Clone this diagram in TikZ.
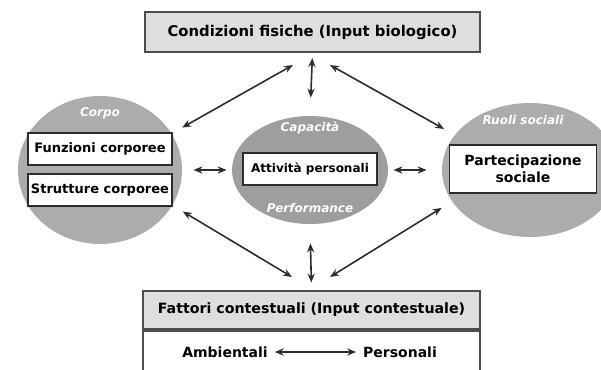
\documentclass[tikz,border=0pt]{standalone}
\usepackage{fontspec}
\setmainfont{DejaVu Sans}
\usetikzlibrary{arrows.meta,positioning,shapes.geometric}
\definecolor{ink}{RGB}{45,45,45}
\definecolor{blobc}{RGB}{172,172,172}
\definecolor{boxc}{RGB}{222,222,222}

\tikzset{
  blob/.style={ellipse,fill=blobc,inner sep=0pt},
  inbox/.style={draw=ink,line width=0.8pt,fill=white,inner sep=1pt,align=center,font=\fontsize{6.5}{8}\selectfont\bfseries},
  headbox/.style={draw=ink!85,line width=1pt,fill=boxc,inner sep=1pt,font=\fontsize{7.4}{9}\selectfont\bfseries},
  tag/.style={text=white,font=\fontsize{6}{7}\selectfont\bfseries\itshape},
  link/.style={{Stealth[length=4.5pt,width=3.6pt]}-{Stealth[length=4.5pt,width=3.6pt]},line width=0.8pt,ink},
}

\begin{document}
\begin{tikzpicture}[x=0.5pt,y=-0.5pt,font=\fontsize{7}{8.5}\selectfont\bfseries]
  \clip (0,0) rectangle (601,370);
  % row and column centres (pixel grid of the scan)
  \def\rM{170}\def\xL{100}\def\xC{310}\def\xR{530}
  % top box
  \node[headbox,minimum width=167.5pt,minimum height=20pt] (fisiche) at (312.5,32) {Condizioni fisiche (Input biologico)};
  % the three ellipses
  \node[blob,minimum width=82pt,minimum height=74pt] (corpo) at (\xL,\rM) {};
  \node[blob,fill=blobc!92!black,minimum width=78pt,minimum height=54pt] (capac) at (\xC,\rM) {};
  \node[blob,minimum width=88pt,minimum height=67pt] (ruoli) at (\xR,\rM) {};
  % ellipse headings
  \node[tag] (tcorpo) at (\xL,113) {Corpo};
  \node[tag] (tcapac) at (\xC,128) {Capacità};
  \node[tag] (tperf) at (\xC,208) {Performance};
  \node[tag] (truoli) at (523,120) {Ruoli sociali};
  % boxes inside the ellipses
  \node[inbox,minimum width=72pt,minimum height=16pt] (funz) at (100,149) {Funzioni corporee};
  \node[inbox,minimum width=72pt,minimum height=16pt] (strutt) at (100,190) {Strutture corporee};
  \node[inbox,minimum width=67pt,minimum height=16pt,font=\fontsize{6}{7.5}\selectfont\bfseries] (attiv) at (\xC,169) {Attività personali};
  \node[inbox,minimum width=73.5pt,minimum height=24pt,font=\fontsize{7}{8.5}\selectfont\bfseries] (partec) at (523,169) {Partecipazione\\sociale};
  % bottom box: title band and lower row
  \node[headbox,minimum width=168.5pt,minimum height=19pt,font=\fontsize{7.1}{9}\selectfont\bfseries] (fattori) at (311.5,309.5) {Fattori contestuali (Input contestuale)};
  \node[draw=ink!85,line width=1pt,fill=white,minimum width=168.5pt,minimum height=20pt,below=0pt of fattori] (lower) {};
  \node (amb) at (225,352) {Ambientali};
  \node (pers) at (400,352) {Personali};
  % meeting points of the diagonals
  \coordinate (tl) at (293,65);
  \coordinate (tr) at (330,65);
  \coordinate (bl) at (292,277);
  \coordinate (br) at (330,277);
  % connectors
  \draw[link,shorten <=2.5pt,shorten >=9pt] (fisiche.south) -- (capac.north);
  \draw[link,shorten <=9.5pt,shorten >=3.5pt] (capac.south) -- (fattori.north);
  \draw[link,shorten <=5.5pt,shorten >=2.5pt] (corpo.east) -- (capac.west);
  \draw[link,shorten <=2.5pt,shorten >=7.5pt] (capac.east) -- (ruoli.west);
  \draw[link,shorten >=6pt] (tl) -- (corpo.27);
  \draw[link,shorten >=6pt] (tr) -- (ruoli.155);
  \draw[link,shorten >=6pt] (bl) -- (corpo.334);
  \draw[link,shorten >=6pt] (br) -- (ruoli.202);
  \draw[link,line width=0.6pt] (amb.east) -- (pers.west);
\end{tikzpicture}
\end{document}
